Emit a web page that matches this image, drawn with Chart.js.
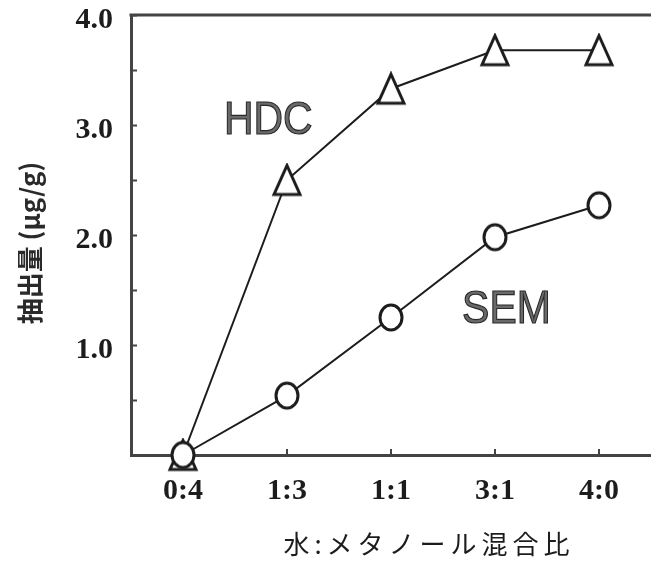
<!DOCTYPE html>
<html lang="ja">
<head>
<meta charset="utf-8">
<title>抽出量</title>
<script src="https://cdn.jsdelivr.net/npm/chart.js@4/dist/chart.umd.min.js"></script>
<style>
  html, body { margin: 0; padding: 0; background: #fff; }
  #wrap { width: 651px; height: 570px; position: relative; }
</style>
</head>
<body>
<div id="wrap"><canvas id="chart"></canvas></div>
<script>
'use strict';

// ── データ ───────────────────────────────────────────────
const categories = ['0:4', '1:3', '1:1', '3:1', '4:0'];
const hdcValues  = [0, 2.5, 3.33, 3.68, 3.68];
const semValues  = [0, 0.54, 1.25, 1.98, 2.27];
const seriesNames = ['HDC', 'SEM'];
const yTickLabels = ['1.0', '2.0', '3.0', '4.0'];
const yTitle = '抽出量 (μg/g)';
const xTitle = '水:メタノール混合比';

// ラベル位置（データ座標）
const labelPos = {
  HDC: { x: 0.82, y: 3.05 },
  SEM: { x: 3.11, y: 1.33 },
};

const INK = '#1c1c1c';
const AXIS = '#444';

// ── マーカー画像 ─────────────────────────────────────────
function makeTriangle(w, h, lw) {
  const c = document.createElement('canvas');
  c.width = w; c.height = h;
  const g = c.getContext('2d');
  g.beginPath();
  g.moveTo(w / 2, lw);
  g.lineTo(w - lw, h - lw);
  g.lineTo(lw, h - lw);
  g.closePath();
  g.fillStyle = '#fff';
  g.fill();
  g.lineWidth = lw;
  g.strokeStyle = INK;
  g.stroke();
  return c;
}
function makeEllipse(w, h, lw) {
  const c = document.createElement('canvas');
  c.width = w; c.height = h;
  const g = c.getContext('2d');
  g.beginPath();
  g.ellipse(w / 2, h / 2, w / 2 - lw, h / 2 - lw, 0, 0, Math.PI * 2);
  g.fillStyle = '#fff';
  g.fill();
  g.lineWidth = lw;
  g.strokeStyle = INK;
  g.stroke();
  return c;
}
const triImg = makeTriangle(32, 35, 3);
const cirImg = makeEllipse(28, 31, 3);

// ── 装飾プラグイン（内向き目盛・上枠・注記・軸タイトル）──────
const decor = {
  id: 'decor',
  beforeDatasetsDraw(chart) {
    const { ctx, chartArea: a, scales: { x, y } } = chart;
    ctx.save();
    ctx.strokeStyle = AXIS;
    ctx.lineWidth = 3;
    ctx.beginPath();
    ctx.moveTo(a.left - 1.5, a.top);
    ctx.lineTo(a.right, a.top);
    ctx.stroke();

    ctx.lineWidth = 2;
    y.ticks.forEach(t => {
      if (t.value <= 0) return;
      const py = Math.round(y.getPixelForValue(t.value)) + 0.5;
      ctx.beginPath();
      ctx.moveTo(a.left, py);
      ctx.lineTo(a.left + 6, py);
      ctx.stroke();
    });
    categories.forEach((c, i) => {
      if (i === 0) return;
      const px = Math.round(x.getPixelForValue(i));
      ctx.beginPath();
      ctx.moveTo(px, a.bottom);
      ctx.lineTo(px, a.bottom - 6);
      ctx.stroke();
    });
    ctx.restore();
  },
  afterDatasetsDraw(chart) {
    const { ctx, scales: { x, y } } = chart;
    ctx.save();
    // 系列名
    ctx.font = '46px "Liberation Sans", Arial, sans-serif';
    ctx.textAlign = 'center';
    ctx.textBaseline = 'middle';
    ctx.fillStyle = '#6a6a6a';
    ctx.strokeStyle = '#2a2a2a';
    ctx.lineWidth = 1.2;
    seriesNames.forEach(name => {
      const p = labelPos[name];
      const px = x.getPixelForValue(p.x);
      const py = y.getPixelForValue(p.y);
      ctx.save();
      ctx.translate(px, py);
      ctx.scale(0.89, 1);
      ctx.fillText(name, 0, 2);
      ctx.strokeText(name, 0, 2);
      ctx.restore();
    });

    // x軸タイトル
    ctx.fillStyle = INK;
    ctx.font = '400 26px "Noto Sans CJK JP", sans-serif';
    ctx.letterSpacing = '5px';
    ctx.textAlign = 'center';
    ctx.fillText(xTitle, 429, 544);
    ctx.letterSpacing = '0px';

    // y軸タイトル
    ctx.translate(30, 243);
    ctx.rotate(-Math.PI / 2);
    ctx.font = 'bold 26px "Noto Sans CJK JP", sans-serif';
    ctx.fillStyle = '#2a2a2a';
    ctx.fillText(yTitle, 0, 0);
    ctx.restore();
  },
};

// ── チャート ─────────────────────────────────────────────
const tickFont = { family: '"Liberation Serif", "Times New Roman", serif', size: 30, weight: 'bold' };

new Chart(document.getElementById('chart').getContext('2d'), {
  type: 'line',
  data: {
    labels: categories,
    datasets: [
      {
        label: 'SEM',
        data: semValues,
        order: 0,
        borderColor: INK,
        borderWidth: 2,
        pointStyle: cirImg,
        clip: false,
        tension: 0,
      },
      {
        label: 'HDC',
        data: hdcValues,
        order: 1,
        borderColor: INK,
        borderWidth: 2,
        pointStyle: triImg,
        clip: false,
        tension: 0,
      },
    ],
  },
  options: {
    responsive: true,
    maintainAspectRatio: false,
    animation: false,
    layout: { autoPadding: false, padding: { top: 15, right: 0, left: 0, bottom: 0 } },
    plugins: {
      legend: { display: false },
      tooltip: { enabled: false },
    },
    scales: {
      x: {
        type: 'category',
        offset: true,
        grid: { display: false, drawTicks: false },
        border: { display: true, color: AXIS, width: 3 },
        ticks: { color: INK, font: tickFont, padding: 18, maxRotation: 0 },
        afterFit: s => {
          s.height = 115;
          s.paddingLeft = 0;
          s.paddingRight = 0;
        },
      },
      y: {
        min: 0,
        max: 4,
        grid: { display: false, drawTicks: false },
        border: { display: true, color: AXIS, width: 3 },
        ticks: {
          stepSize: 0.5,
          color: INK,
          font: tickFont,
          padding: 18,
          labelOffset: 5,
          callback: v => {
            const s = Number(v).toFixed(1);
            return yTickLabels.includes(s) ? s : '';
          },
        },
        afterFit: s => {
          s.width = 131;
          s.paddingTop = 0;
          s.paddingBottom = 0;
        },
      },
    },
  },
  plugins: [decor],
});
</script>
</body>
</html>
